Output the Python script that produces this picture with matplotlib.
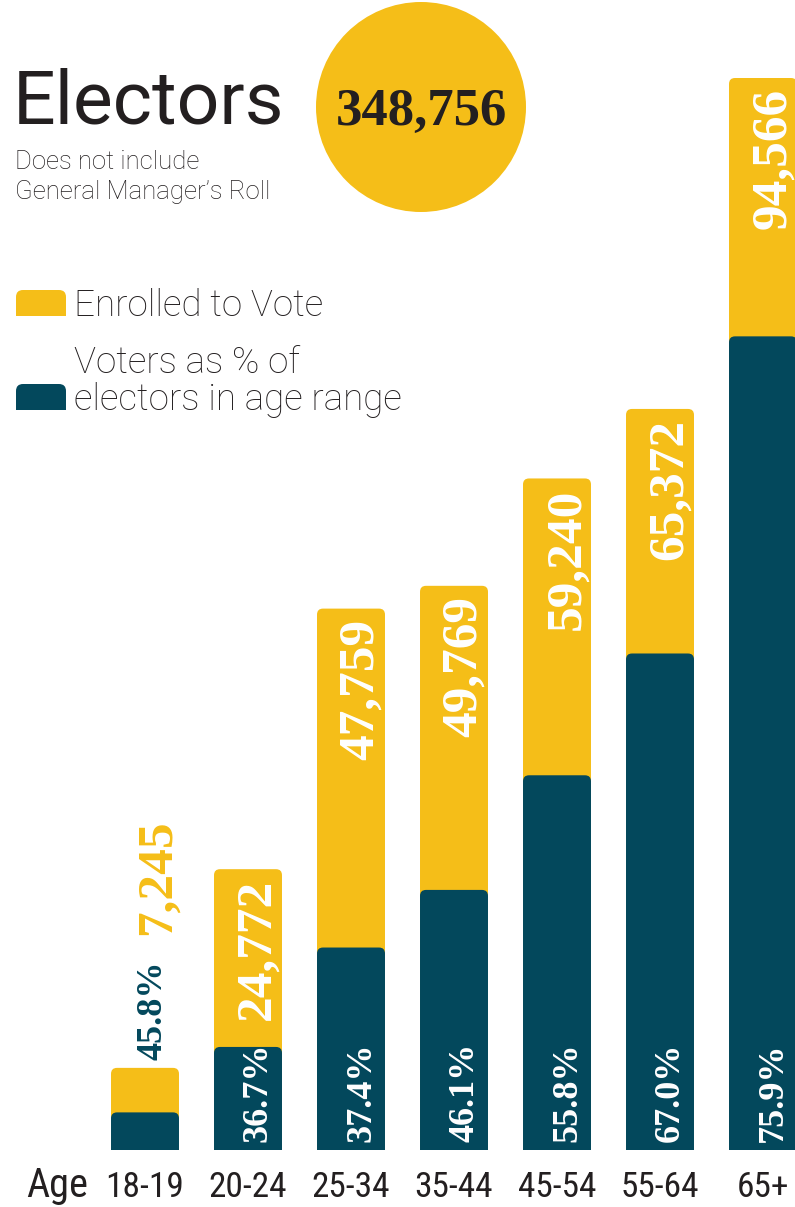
import numpy as np
import matplotlib
matplotlib.use("Agg")
import matplotlib.pyplot as plt
from matplotlib import font_manager as fm
from matplotlib.patches import FancyBboxPatch, Circle, Rectangle

# ---------------- data ----------------
age_groups = ["18-19", "20-24", "25-34", "35-44", "45-54", "55-64", "65+"]
enrolled = [7245, 24772, 47759, 49769, 59240, 65372, 94566]
voter_pct = [45.8, 36.7, 37.4, 46.1, 55.8, 67.0, 75.9]
total_electors = 348756

title = "Electors"
subtitle = ["Does not include", "General Manager\u2019s Roll"]
legend_enrolled = "Enrolled to Vote"
legend_voters = ["Voters as % of", "electors in age range"]
axis_word = "Age"

# ---------------- style ----------------
YEL = "#F5BE18"
DARK = "#03485C"
INK = "#231F20"

names = {f.name for f in fm.fontManager.ttflist}
def pick(cands, default="DejaVu Sans"):
    for c in cands:
        if c in names:
            return c
    return default

SANS = pick(["Roboto", "Lato", "Open Sans", "DejaVu Sans"])
COND = pick(["Roboto Condensed", "Liberation Sans Narrow", "Open Sans Condensed",
             "DejaVu Sans Condensed", "Roboto", "DejaVu Sans"])
SERIF = pick(["Liberation Serif", "DejaVu Serif"])

W, H = 795, 1207
fig = plt.figure(figsize=(W / 100, H / 100), dpi=100)
fig.patch.set_facecolor("white")

def fx(px):
    return px / W

def fy(py):
    return 1 - py / H

# ---------------- axes / bars ----------------
base_px = 1150
ax = fig.add_axes([0, (H - base_px) / H, 1, base_px / H])
ax.set_facecolor("none")
x = np.arange(len(age_groups))
ax.set_xlim(-145 / 103, (W - 145) / 103)
ax.set_ylim(0, max(enrolled) * base_px / 1072)
for s in ax.spines.values():
    s.set_visible(False)
ax.set_yticks([])

voters_h = [e * p / 100 for e, p in zip(enrolled, voter_pct)]
bw = 0.66
ybars = ax.bar(x, enrolled, width=bw, color=YEL)
dbars = ax.bar(x, voters_h, width=bw, color=DARK)

p0 = ax.transData.transform((0, 0))
p1 = ax.transData.transform((1, 1))
sx = p1[0] - p0[0]
sy = p1[1] - p0[1]

def round_bars(bars, color, r_px=6):
    for b in bars:
        x0, y0, w, h = b.get_x(), b.get_y(), b.get_width(), b.get_height()
        b.set_visible(False)
        ext = 2 * r_px / sy
        patch = FancyBboxPatch((x0, y0 - ext), w, h + ext,
                               boxstyle=f"round,pad=0,rounding_size={r_px / sx}",
                               mutation_aspect=sx / sy, fc=color, ec="none",
                               zorder=b.get_zorder())
        ax.add_patch(patch)

round_bars(ybars, YEL)
round_bars(dbars, DARK)

pt = 0.72  # points per pixel at 100 dpi
for i in range(len(x)):
    e = enrolled[i]
    num = f"{e:,}"
    pc = f"{voter_pct[i]:.1f}%"
    yellow_px = (e - voters_h[i]) * sy
    if yellow_px < 160:
        ax.annotate(pc, xy=(x[i], e), xytext=(17 * pt, 8 * pt), textcoords="offset points",
                    rotation=90, rotation_mode="anchor", ha="left", va="baseline",
                    color=DARK, fontsize=26, family=SERIF, weight="bold")
        ax.annotate(num, xy=(x[i], e), xytext=(25 * pt, 133 * pt), textcoords="offset points",
                    rotation=90, rotation_mode="anchor", ha="left", va="baseline",
                    color=YEL, fontsize=37, family=SERIF, weight="bold")
    else:
        ax.annotate(num, xy=(x[i], e), xytext=(22 * pt, -10 * pt), textcoords="offset points",
                    rotation=90, rotation_mode="anchor", ha="right", va="baseline",
                    color="white", fontsize=37, family=SERIF, weight="bold")
        ax.annotate(pc, xy=(x[i], 0), xytext=(19 * pt, 8 * pt), textcoords="offset points",
                    rotation=90, rotation_mode="anchor", ha="left", va="baseline",
                    color="white", fontsize=26, family=SERIF, weight="bold")

ax.set_xticks(x, age_groups)
ax.tick_params(axis="x", length=0, pad=47 * pt, labelsize=25.5, labelcolor=INK)
for lbl in ax.get_xticklabels():
    lbl.set_va("baseline")
    lbl.set_family(COND)

fig.text(fx(57), fy(1197), axis_word, ha="center", va="baseline", fontsize=29,
         family=COND, color=INK)

# ---------------- header ----------------
fig.text(fx(13), fy(124), title, ha="left", va="baseline", fontsize=54,
         family=SANS, color=INK)
fig.text(fx(15), fy(169), subtitle[0], ha="left", va="baseline", fontsize=18.5,
         family=SANS, weight="light", color=INK)
fig.text(fx(15), fy(199), subtitle[1], ha="left", va="baseline", fontsize=18.5,
         family=SANS, weight="light", color=INK)

circ = Circle((421 / 100, (H - 107) / 100), 1.05, transform=fig.dpi_scale_trans,
              fc=YEL, ec="none")
fig.add_artist(circ)
fig.text(fx(421), fy(125), f"{total_electors:,}", ha="center", va="baseline",
         fontsize=38, family=SERIF, weight="bold", color=INK)

# ---------------- legend ----------------
def legend_patch(top_px, bot_px, color):
    rb = FancyBboxPatch((16 / 100, (H - bot_px) / 100), 50 / 100, (bot_px - top_px) / 100,
                        boxstyle="round,pad=0,rounding_size=0.07",
                        transform=fig.dpi_scale_trans, fc=color, ec="none")
    fig.add_artist(rb)
    sq = Rectangle((16 / 100, (H - bot_px) / 100), 50 / 100, (bot_px - top_px) / 200,
                   transform=fig.dpi_scale_trans, fc=color, ec="none")
    fig.add_artist(sq)

legend_patch(290, 316, YEL)
legend_patch(384, 410, DARK)
fig.text(fx(74), fy(316), legend_enrolled, ha="left", va="baseline", fontsize=26.5,
         family=SANS, weight="light", color=INK)
fig.text(fx(74), fy(373), legend_voters[0], ha="left", va="baseline", fontsize=26.5,
         family=SANS, weight="light", color=INK)
fig.text(fx(74), fy(410), legend_voters[1], ha="left", va="baseline", fontsize=26.5,
         family=SANS, weight="light", color=INK)

fig.savefig("out.png", dpi=100, facecolor="white")
